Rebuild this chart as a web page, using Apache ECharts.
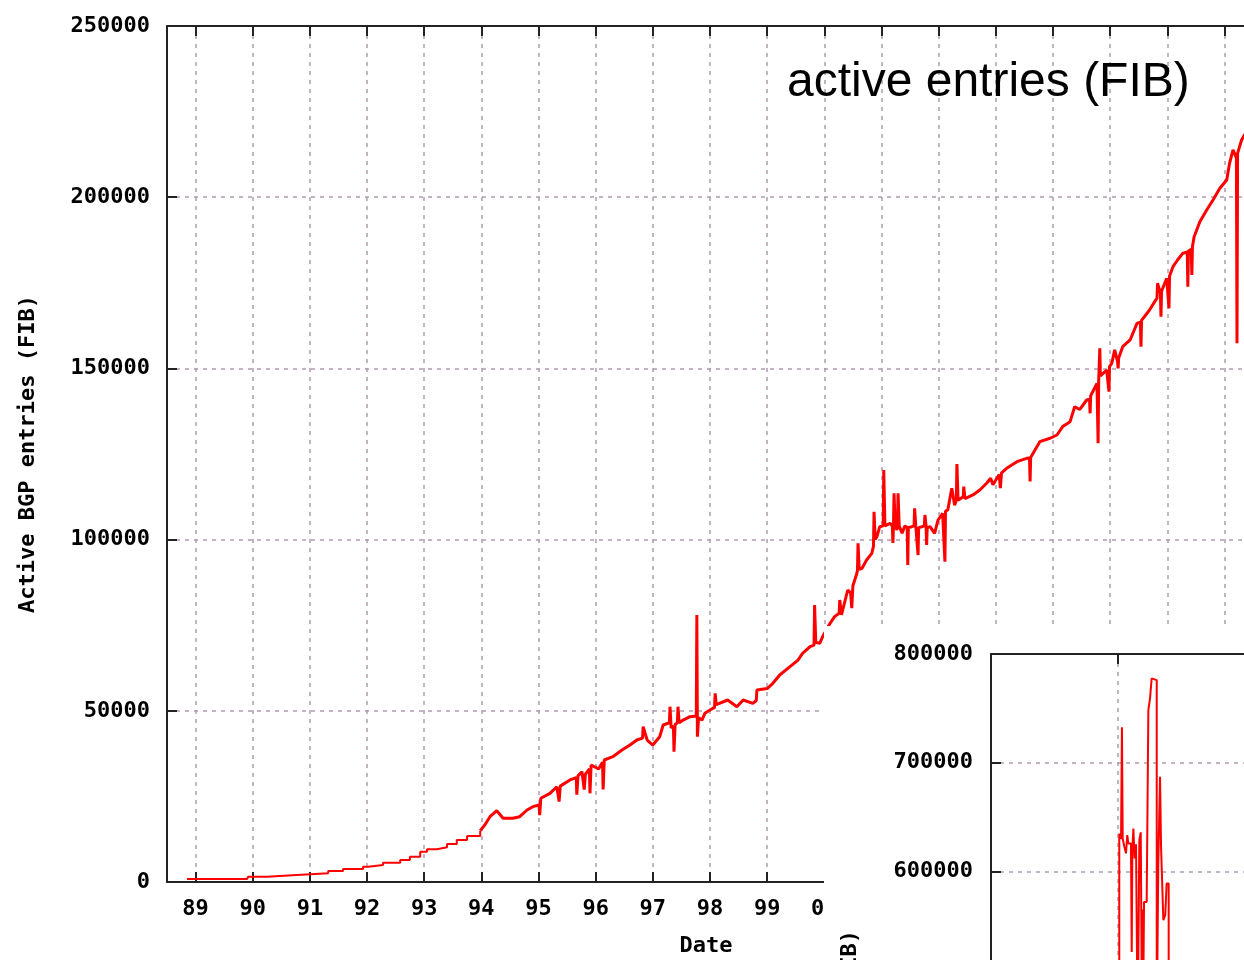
<!DOCTYPE html>
<html>
<head>
    <meta charset="utf-8">
    <title>Active BGP entries (FIB)</title>
    <script src="https://cdn.jsdelivr.net/npm/echarts@6/dist/echarts.min.js"></script>
    <style>
        html, body { margin: 0; padding: 0; overflow: hidden; background: #fff; }
        #main { width: 1300px; height: 1600px; }
    </style>
</head>
<body>
<div id="main"></div>
<script type="text/javascript">
    // early years: the table grows in clear steps
    var stepYears = [
        1988.85, 1989.90, 1989.92, 1990.25, 1990.77, 1991.32, 1991.58, 1991.93, 1992.02, 1992.28,
        1992.58, 1992.75, 1992.93, 1993.05, 1993.22, 1993.40, 1993.57, 1993.75, 1993.98
    ];
    var stepEntries = [
        880, 880, 1550, 2040, 2540, 3200, 3800, 4470, 4960, 5640,
        6420, 7400, 8850, 9550, 10130, 11100, 12270, 13430, 15000
    ];

    // from 1994 on: noisy growth with spikes
    var fibYears = [
        1993.98, 1994.06, 1994.15, 1994.27, 1994.38, 1994.55, 1994.67, 1994.80, 1994.90, 1995.01,
        1995.02, 1995.04, 1995.20, 1995.32, 1995.34, 1995.36, 1995.38, 1995.55, 1995.66, 1995.67,
        1995.69, 1995.76, 1995.79, 1995.80, 1995.82, 1995.89, 1995.90, 1995.92, 1996.05, 1996.12,
        1996.13, 1996.15, 1996.30, 1996.46, 1996.60, 1996.72, 1996.82, 1996.83, 1996.90, 1997.00,
        1997.12, 1997.18, 1997.29, 1997.30, 1997.32, 1997.36, 1997.37, 1997.39, 1997.43, 1997.44,
        1997.46, 1997.53, 1997.65, 1997.76, 1997.77, 1997.78, 1997.80, 1997.86, 1997.91, 1998.00,
        1998.08, 1998.09, 1998.11, 1998.31, 1998.47, 1998.58, 1998.75, 1998.81, 1998.82, 1999.00,
        1999.10, 1999.22, 1999.40, 1999.54, 1999.62, 1999.75, 1999.82, 1999.83, 1999.85, 1999.92,
        1999.97, 2000.10, 2000.18, 2000.26, 2000.27, 2000.30, 2000.41, 2000.46, 2000.48, 2000.50,
        2000.57, 2000.58, 2000.59, 2000.61, 2000.66, 2000.74, 2000.83, 2000.86, 2000.87, 2000.89,
        2000.92, 2000.97, 2001.03, 2001.04, 2001.06, 2001.09, 2001.15, 2001.19, 2001.20, 2001.21,
        2001.22, 2001.24, 2001.27, 2001.28, 2001.29, 2001.31, 2001.36, 2001.41, 2001.45, 2001.46,
        2001.47, 2001.53, 2001.57, 2001.58, 2001.60, 2001.63, 2001.64, 2001.65, 2001.71, 2001.75,
        2001.76, 2001.78, 2001.79, 2001.80, 2001.85, 2001.93, 2001.99, 2002.07, 2002.10, 2002.11,
        2002.12, 2002.16, 2002.23, 2002.28, 2002.31, 2002.32, 2002.34, 2002.37, 2002.43, 2002.44,
        2002.46, 2002.49, 2002.60, 2002.72, 2002.84, 2002.91, 2002.95, 2003.06, 2003.07, 2003.08,
        2003.10, 2003.19, 2003.37, 2003.54, 2003.59, 2003.60, 2003.61, 2003.77, 2003.95, 2004.07,
        2004.17, 2004.30, 2004.38, 2004.47, 2004.59, 2004.64, 2004.65, 2004.66, 2004.77, 2004.78,
        2004.79, 2004.80, 2004.81, 2004.82, 2004.83, 2004.94, 2004.97, 2004.98, 2004.99, 2005.03,
        2005.08, 2005.13, 2005.14, 2005.15, 2005.22, 2005.35, 2005.47, 2005.53, 2005.54, 2005.55,
        2005.69, 2005.78, 2005.82, 2005.83, 2005.88, 2005.89, 2005.90, 2005.99, 2006.02, 2006.03,
        2006.04, 2006.10, 2006.18, 2006.27, 2006.35, 2006.36, 2006.37, 2006.42, 2006.43, 2006.44,
        2006.47, 2006.57, 2006.69, 2006.80, 2006.92, 2007.04, 2007.09, 2007.15, 2007.21, 2007.22,
        2007.23, 2007.30, 2007.36
    ];
    var fibEntries = [
        15000, 16650, 19070, 20820, 18600, 18600, 19070, 21030, 22000, 22500,
        19500, 24450, 25900, 27830, 27500, 23500, 28000, 29800, 30500, 25500,
        31000, 32200, 31800, 27000, 31500, 33000, 25900, 34170, 33000, 35000,
        27000, 35630, 36600, 38550, 40000, 41470, 42000, 45360, 41470, 40000,
        42400, 45850, 46500, 51200, 45000, 45500, 38060, 46000, 46500, 51200,
        46500, 47300, 48280, 48500, 78000, 42440, 48000, 47300, 49270, 50230,
        51000, 55100, 51800, 53150, 51200, 53150, 52190, 53000, 56080, 56500,
        58030, 60460, 62880, 64800, 66800, 68720, 69200, 80900, 70000, 69700,
        71640, 75550, 77500, 78500, 82360, 78000, 85280, 84500, 80000, 86500,
        90160, 91000, 98900, 91300, 91620, 94040, 96000, 98000, 108150, 100000,
        100850, 103770, 104000, 120330, 104000, 103770, 104750, 104000, 99000, 104000,
        113500, 104000, 102800, 104000, 113500, 104000, 101840, 104000, 103500, 92580,
        103500, 103770, 104000, 109140, 104000, 103800, 95500, 103500, 103770, 104000,
        107180, 104000, 98420, 103500, 103770, 101840, 105730, 107680, 108000, 93540,
        108300, 108650, 115000, 110000, 111500, 122080, 111500, 111570, 112500, 115450,
        112000, 111500, 113030, 114490, 116450, 117900, 116000, 119000, 119370, 115000,
        119500, 120830, 122750, 123730, 123800, 117000, 124000, 128600, 129600, 130550,
        133000, 134440, 138800, 138000, 140770, 141000, 136880, 142000, 145640, 145700,
        128120, 146500, 147000, 155880, 147800, 149530, 150000, 143200, 150500, 151500,
        155400, 152000, 150020, 153000, 156330, 158300, 163170, 163500, 156330, 164000,
        167060, 169500, 170500, 174860, 172000, 165100, 172500, 176320, 176500, 167550,
        177000, 179700, 181660, 183600, 184000, 173860, 184300, 184800, 177280, 185500,
        188460, 192840, 196260, 199180, 202600, 205030, 209900, 213800, 211500, 157330,
        212800, 216700, 218500
    ];
    var yearTicks = [1989, 1990, 1991, 1992, 1993, 1994, 1995, 1996, 1997, 1998,
        1999, 2000, 2001, 2002, 2003, 2004, 2005, 2006, 2007];

    // inset plot (cropped in the source picture)
    var insetX = [
        1.010, 1.010, 1.024, 1.031, 1.037, 1.050, 1.063, 1.073, 1.081, 1.102,
        1.108, 1.113, 1.121, 1.131, 1.142, 1.155, 1.168, 1.179, 1.187, 1.192,
        1.197, 1.205, 1.226, 1.239, 1.252, 1.265, 1.278, 1.305, 1.317, 1.331,
        1.339, 1.352, 1.357, 1.372, 1.383, 1.399
    ];
    var insetEntries = [
        450000, 635000, 630000, 732600, 630400, 622700, 616700, 633500, 625800, 624000,
        526000, 619700, 639600, 612000, 625000, 450000, 628900, 636000, 500000, 565000,
        460000, 572000, 574000, 748500, 759000, 777600, 776000, 450000, 605900, 687100,
        622700, 622700, 555300, 560000, 589000, 450000
    ];

    var mono = 'DejaVu Sans Mono';
    var textStyle = { fontFamily: mono, fontWeight: 'bold', fontSize: 22, color: '#000' };
    var gridLine = { show: true, lineStyle: { color: '#b09cb0', type: [4, 5], width: 1.5 } };
    var axisLine = { show: true, onZero: false, lineStyle: { color: '#222', width: 2 } };
    var tickStyle = { color: '#222', width: 2 };

    function yearLabel(v) {
        var y = Math.round(v) % 100;
        return (y < 10 ? '0' : '') + y;
    }
    function plainNumber(v) {
        return String(v);
    }

    var stepData = stepYears.map(function (y, i) { return [y, stepEntries[i]]; });
    var fibData = fibYears.map(function (y, i) { return [y, fibEntries[i]]; });
    var insetData = insetX.map(function (x, i) { return [x, insetEntries[i]]; });

    var myChart = echarts.init(document.getElementById('main'));

    var option = {
        animation: false,
        backgroundColor: '#fff',
        grid: [
            { left: 167, top: 26, width: 1078, height: 856 },
            { left: 991, top: 654, width: 254, height: 870 }
        ],
        xAxis: [
            {
                gridIndex: 0, type: 'value', position: 'bottom', min: 1988.5, max: 2007.36,
                name: 'Date', nameLocation: 'middle', nameGap: 53, nameTextStyle: textStyle,
                axisLine: axisLine,
                axisTick: { inside: true, length: 10, customValues: yearTicks, lineStyle: tickStyle },
                axisLabel: Object.assign({ customValues: yearTicks, formatter: yearLabel, margin: 16 }, textStyle),
                splitLine: gridLine
            },
            {
                gridIndex: 0, type: 'value', position: 'top', min: 1988.5, max: 2007.36,
                axisLine: axisLine,
                axisTick: { inside: true, length: 10, customValues: yearTicks, lineStyle: tickStyle },
                axisLabel: { show: false },
                splitLine: { show: false }
            },
            {
                gridIndex: 1, type: 'value', position: 'bottom', min: 0, max: 2, interval: 1, z: 20,
                axisLine: axisLine,
                axisTick: { inside: true, length: 10, lineStyle: tickStyle },
                axisLabel: { show: false },
                splitLine: gridLine
            },
            {
                gridIndex: 1, type: 'value', position: 'top', min: 0, max: 2, interval: 1, z: 20,
                axisLine: axisLine,
                axisTick: { inside: true, length: 10, lineStyle: tickStyle },
                axisLabel: { show: false },
                splitLine: { show: false }
            }
        ],
        yAxis: [
            {
                gridIndex: 0, type: 'value', min: 0, max: 250000, interval: 50000,
                name: 'Active BGP entries (FIB)', nameLocation: 'middle', nameGap: 128,
                nameTextStyle: textStyle,
                axisLine: axisLine,
                axisTick: { inside: true, length: 10, lineStyle: tickStyle },
                axisLabel: Object.assign({ margin: 17, formatter: plainNumber }, textStyle),
                splitLine: gridLine
            },
            {
                gridIndex: 1, type: 'value', min: 0, max: 800000, interval: 100000, z: 20,
                name: 'Active BGP entries (FIB)', nameLocation: 'middle', nameGap: 130,
                nameTextStyle: textStyle,
                axisLine: axisLine,
                axisTick: { inside: true, length: 10, lineStyle: tickStyle },
                axisLabel: Object.assign({ margin: 18, formatter: plainNumber }, textStyle),
                splitLine: gridLine
            }
        ],
        graphic: [
            {
                type: 'rect', z: 10, silent: true,
                shape: { x: 824, y: 626, width: 600, height: 1000 },
                style: { fill: '#fff' }
            },
            {
                type: 'text', z: 30, x: 787, y: 83,
                style: {
                    text: 'active entries (FIB)', fill: '#000',
                    font: '48px "Liberation Sans", Arial, sans-serif',
                    align: 'left', verticalAlign: 'middle'
                }
            }
        ],
        series: [
            {
                name: 'FIB early', type: 'line', xAxisIndex: 0, yAxisIndex: 0,
                data: stepData, step: 'end', symbol: 'none', z: 2,
                lineStyle: { color: '#ff0000', width: 2 }
            },
            {
                name: 'FIB', type: 'line', xAxisIndex: 0, yAxisIndex: 0,
                data: fibData, symbol: 'none', z: 2,
                lineStyle: { color: '#ff0000', width: 3 }
            },
            {
                name: 'inset', type: 'line', xAxisIndex: 2, yAxisIndex: 1,
                data: insetData, step: 'end', symbol: 'none', z: 21,
                lineStyle: { color: '#ff0000', width: 2 }
            }
        ]
    };

    myChart.setOption(option);
</script>
</body>
</html>
